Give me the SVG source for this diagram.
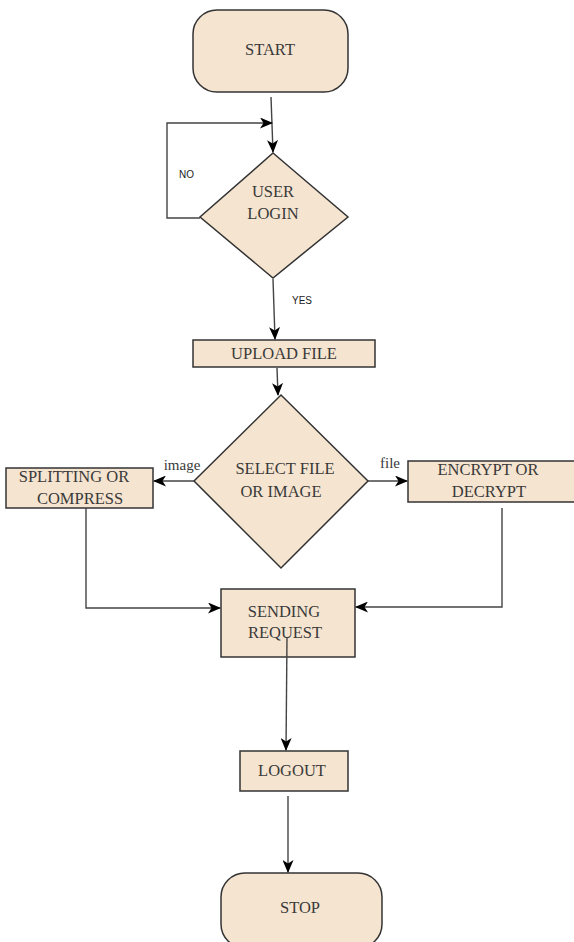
<svg xmlns="http://www.w3.org/2000/svg" width="574" height="942" viewBox="0 0 574 942">
<style>
.n{fill:#F5E4D0;stroke:#333;stroke-width:1.5}
.t{font-family:"Liberation Serif",serif;font-size:16.5px;fill:#3a3a3a;text-anchor:middle}
.s{font-family:"Liberation Sans",sans-serif;font-size:10px;fill:#222}
.c{fill:none;stroke:#444;stroke-width:1.4}
</style>
<defs>
<marker id="a" markerWidth="13" markerHeight="11" refX="12" refY="5.5" orient="auto" markerUnits="userSpaceOnUse">
<path d="M0,0 L13,5.5 L0,11 L3.5,5.5 z" fill="#000"/>
</marker>
</defs>
<rect width="574" height="942" fill="#fff"/>
<g id="start">
<rect class="n" x="193" y="10" width="155" height="82" rx="24"/>
<text class="t" x="270" y="55">START</text>
</g>
<g id="userlogin">
<polygon class="n" points="273,153 348,217 273,278 200,217"/>
<text class="t" x="273" y="197">USER</text>
<text class="t" x="273" y="219">LOGIN</text>
</g>
<g id="upload">
<rect class="n" x="193" y="340" width="182" height="27"/>
<text class="t" x="284" y="359">UPLOAD FILE</text>
</g>
<g id="select">
<polygon class="n" points="281,395 368,481 281,568 194,481"/>
<text class="t" x="285" y="474">SELECT FILE</text>
<text class="t" x="281" y="497">OR IMAGE</text>
</g>
<g id="splitting">
<rect class="n" x="6" y="468" width="147" height="40"/>
<text class="t" x="74" y="482">SPLITTING OR</text>
<text class="t" x="80" y="504">COMPRESS</text>
</g>
<g id="encrypt">
<rect class="n" x="408" y="461" width="170" height="41"/>
<text class="t" x="488" y="475">ENCRYPT OR</text>
<text class="t" x="489" y="497">DECRYPT</text>
</g>
<g id="sending">
<rect class="n" x="221" y="589" width="134" height="68"/>
<text class="t" x="284" y="617">SENDING</text>
<text class="t" x="285" y="638">REQUEST</text>
</g>
<g id="logout">
<rect class="n" x="240" y="751" width="108" height="40"/>
<text class="t" x="292" y="776">LOGOUT</text>
</g>
<g id="stop">
<rect class="n" x="221" y="873" width="161" height="75" rx="24"/>
<text class="t" x="300" y="913">STOP</text>
</g>
<g id="connectors">
<path class="c" d="M271,97 L273,152" marker-end="url(#a)"/>
<path class="c" d="M200,218 L167,218 L167,123 L272,123" marker-end="url(#a)"/>
<path class="c" d="M273,279 L275,339" marker-end="url(#a)"/>
<path class="c" d="M277,368 L278,395" marker-end="url(#a)"/>
<path class="c" d="M194,481 L154,481" marker-end="url(#a)"/>
<path class="c" d="M368,481 L407,481" marker-end="url(#a)"/>
<path class="c" d="M86,508 L86,608 L220,608" marker-end="url(#a)"/>
<path class="c" d="M502,508 L502,607 L356,607" marker-end="url(#a)"/>
<path class="c" d="M287,637 L286,750" marker-end="url(#a)"/>
<path class="c" d="M288,796 L288,872" marker-end="url(#a)"/>
<text class="s" x="179" y="178">NO</text>
<text class="s" x="292" y="304">YES</text>
<text class="t" x="182" y="470" style="font-size:15px">image</text>
<text class="t" x="390" y="468" style="font-size:15px">file</text>
</g>
</svg>
